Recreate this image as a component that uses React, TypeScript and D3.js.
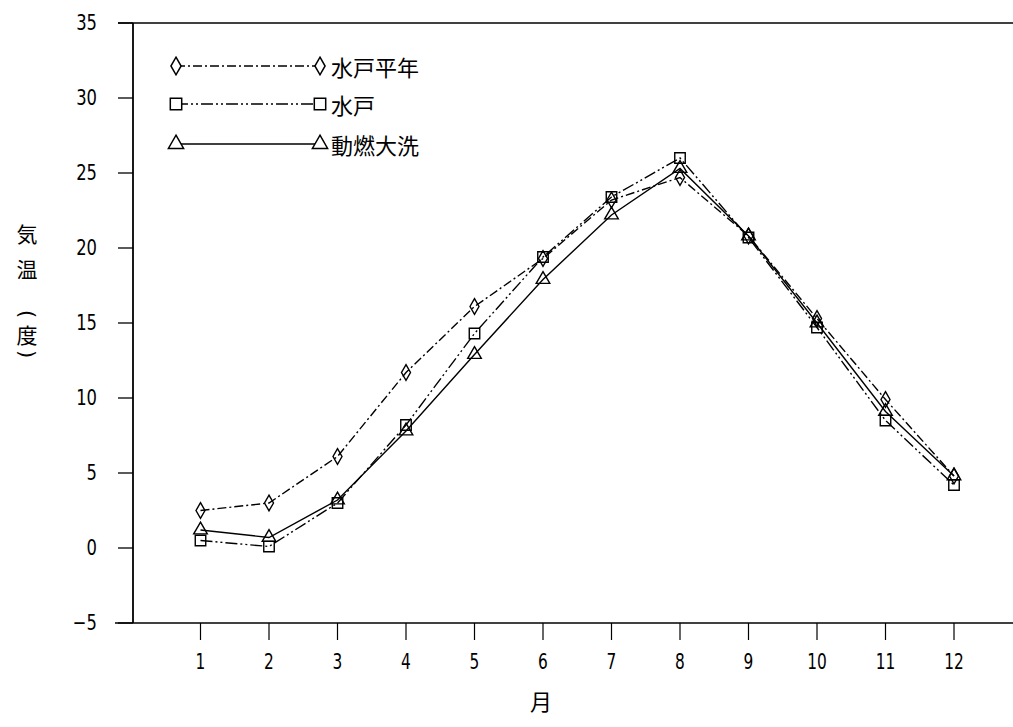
import React from "react";
import * as d3 from "d3";

const months = [1, 2, 3, 4, 5, 6, 7, 8, 9, 10, 11, 12];
const mitoNormal = [2.5, 3.0, 6.1, 11.7, 16.1, 19.3, 23.2, 24.7, 20.8, 15.3, 9.9, 4.8];
const mito = [0.5, 0.1, 3.0, 8.2, 14.3, 19.4, 23.4, 26.0, 20.7, 14.7, 8.5, 4.2];
const oarai = [1.2, 0.7, 3.2, 7.8, 12.9, 17.9, 22.2, 25.3, 20.8, 15.0, 9.1, 4.8];
const yTicks = [-5, 0, 5, 10, 15, 20, 25, 30, 35];
const seriesNames = ["水戸平年", "水戸", "動燃大洗"];
const yLabelChars = ["気", "温", "(", "度", ")"];
const xLabel = "月";

const W = 1013;
const H = 727;

export default function App() {
  const x = d3.scaleLinear().domain([0, 13]).range([132, 132 + 13 * 68.5]);
  const y = d3.scaleLinear().domain([-5, 35]).range([623, 23]);

  const series = [
    { name: seriesNames[0], values: mitoNormal, symbol: d3.symbolDiamond, size: 70, dash: "9,3,2,3" },
    { name: seriesNames[1], values: mito, symbol: d3.symbolSquare, size: 110, dash: "12,3,2,3,2,3" },
    { name: seriesNames[2], values: oarai, symbol: d3.symbolTriangle, size: 80, dash: "none" },
  ];

  const line = d3
    .line<number>()
    .x((_, i) => x(months[i]))
    .y((d) => y(d));

  const tickFont = "'DejaVu Sans', sans-serif";
  const cjk = "'Noto Sans CJK JP', 'Noto Sans CJK SC', sans-serif";

  const legendY = [66, 104, 144];
  const yLabelY = [233, 268, 314, 334, 354];

  return (
    <svg width={W} height={H} style={{ position: "absolute", left: 0, top: 0, background: "#fff" }}>
      <rect x={0} y={0} width={W} height={H} fill="#fff" />
      {/* frame */}
      <line x1={118} x2={W} y1={y(35)} y2={y(35)} stroke="#000" strokeWidth={1.5} />
      <line x1={115} x2={W} y1={y(-5)} y2={y(-5)} stroke="#000" strokeWidth={1.5} />
      <line x1={133} x2={133} y1={y(35)} y2={y(-5)} stroke="#000" strokeWidth={1.8} />
      {yTicks.map((t) => (
        <g key={t}>
          <line x1={118} x2={133} y1={y(t)} y2={y(t)} stroke="#000" strokeWidth={1.3} />
          <text
            transform={`translate(97,${y(t)}) scale(0.78,1)`}
            textAnchor="end"
            dominantBaseline="central"
            fontFamily={tickFont}
            fontSize={21}
            fill="#000"
          >
            {t < 0 ? "−" + Math.abs(t) : t}
          </text>
        </g>
      ))}
      {months.map((m) => (
        <g key={m}>
          <line x1={x(m)} x2={x(m)} y1={y(-5)} y2={y(-5) + 17} stroke="#000" strokeWidth={1.2} />
          <text
            transform={`translate(${x(m)},661) scale(0.7,1)`}
            textAnchor="middle"
            dominantBaseline="central"
            fontFamily={tickFont}
            fontSize={22}
            fill="#000"
          >
            {m}
          </text>
        </g>
      ))}
      <text x={541} y={700} textAnchor="middle" dominantBaseline="central" fontFamily={cjk} fontSize={22} fill="#000">
        {xLabel}
      </text>
      {yLabelChars.map((c, i) => (
        <text
          key={i}
          transform={`translate(27,${yLabelY[i]})${i === 2 || i === 4 ? " rotate(90)" : ""}`}
          textAnchor="middle"
          dominantBaseline="central"
          fontFamily={i === 2 || i === 4 ? tickFont : cjk}
          fontSize={21}
          fill="#000"
        >
          {c}
        </text>
      ))}
      {/* series */}
      {series.map((s) => (
        <g key={s.name}>
          <path
            d={line(s.values) || ""}
            fill="none"
            stroke="#000"
            strokeWidth={1.4}
            strokeDasharray={s.dash}
          />
          {s.values.map((v, i) => (
            <path
              key={i}
              d={d3.symbol().type(s.symbol).size(s.size)() || ""}
              transform={`translate(${x(months[i])},${y(v)})`}
              fill="none"
              stroke="#000"
              strokeWidth={1.4}
            />
          ))}
        </g>
      ))}
      {/* legend */}
      {series.map((s, i) => {
        const sym = d3.symbol().type(s.symbol).size(s.size + 20)() || "";
        return (
          <g key={"lg" + s.name}>
            <line
              x1={176}
              x2={318}
              y1={legendY[i]}
              y2={legendY[i]}
              stroke="#000"
              strokeWidth={1.4}
              strokeDasharray={s.dash}
            />
            <path d={sym} transform={`translate(176,${legendY[i]})`} fill="#fff" stroke="#000" strokeWidth={1.5} />
            <path d={sym} transform={`translate(320,${legendY[i]})`} fill="#fff" stroke="#000" strokeWidth={1.5} />
            <text
              x={331}
              y={legendY[i]}
              dominantBaseline="central"
              fontFamily={cjk}
              fontSize={22}
              fill="#000"
            >
              {s.name}
            </text>
          </g>
        );
      })}
    </svg>
  );
}
